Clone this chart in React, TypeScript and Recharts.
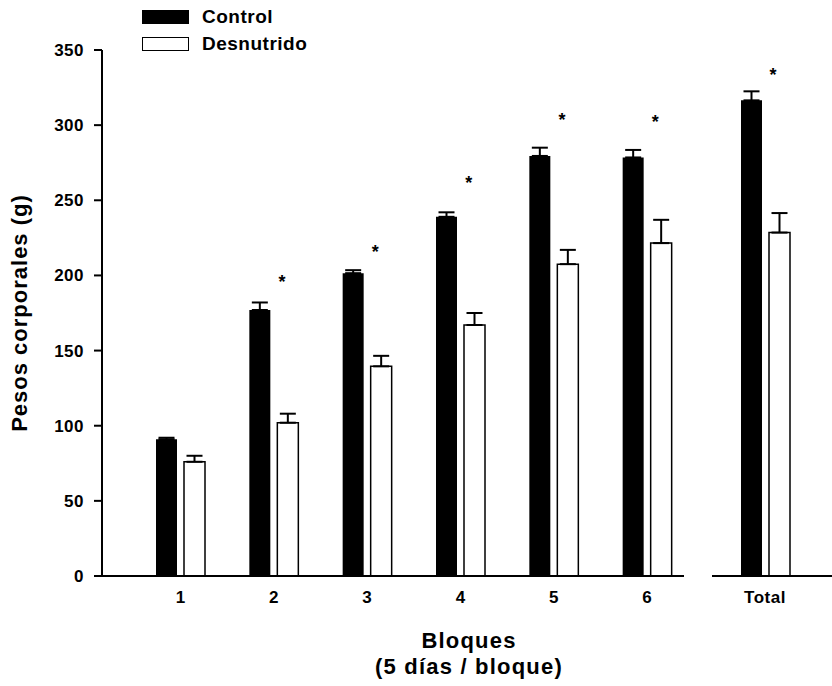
import { Bar, ComposedChart, ErrorBar, Label, Legend, Scatter, XAxis, YAxis } from 'recharts'

const FONT = '"Liberation Sans", Arial, Helvetica, sans-serif'

const categories = ['1', '2', '3', '4', '5', '6']
const control = [91, 177, 201.5, 239, 279.5, 278.5]
const controlErr = [1, 5, 2, 3, 5.5, 5]
const desnutrido = [76, 102, 139.5, 167, 207.5, 221.5]
const desnutridoErr = [4, 6, 7, 8, 9.5, 15.5]
const stars = [null, 198, 218, 264, 306, 305]

const totalCategory = ['Total']
const totalControl = [316.5]
const totalControlErr = [6]
const totalDesnutrido = [228.5]
const totalDesnutridoErr = [13]
const totalStars = [336]

const yTicks = [0, 50, 100, 150, 200, 250, 300, 350]

const data = categories.map((name, i) => ({
  name,
  control: control[i],
  controlErr: [0, controlErr[i]],
  desnutrido: desnutrido[i],
  desnutridoErr: [0, desnutridoErr[i]],
  star: stars[i],
}))

const totalData = totalCategory.map((name, i) => ({
  name,
  control: totalControl[i],
  controlErr: [0, totalControlErr[i]],
  desnutrido: totalDesnutrido[i],
  desnutridoErr: [0, totalDesnutridoErr[i]],
  star: totalStars[i],
}))

const tickStyle = { fill: '#000', fontSize: 17, fontWeight: 700, fontFamily: FONT, letterSpacing: 0.5 }
const axisStroke = { stroke: '#000', strokeWidth: 2 }

// asterisk drawn a little to the right of the group centre
const Star = (props: any) => {
  if (props.cx == null || props.payload?.star == null) return <g />
  return (
    <text
      x={props.cx + 8}
      y={props.cy + 10}
      textAnchor="middle"
      fontSize={18}
      fontWeight={700}
      fontFamily={FONT}
      fill="#000"
    >
      *
    </text>
  )
}

const renderLegend = (props: any) => {
  const items = (props.payload || []).filter(
    (p: any) => p.dataKey === 'control' || p.dataKey === 'desnutrido'
  )
  return (
    <div>
      {items.map((entry: any) => (
        <div key={entry.dataKey} style={{ display: 'flex', alignItems: 'center', height: 26.5 }}>
          <span
            style={{
              display: 'inline-block',
              width: 47,
              height: 14,
              boxSizing: 'border-box',
              border: '1.5px solid #000',
              background: entry.dataKey === 'control' ? '#000' : '#fff',
              marginRight: 13,
            }}
          />
          <span
            style={{
              fontFamily: FONT,
              fontWeight: 700,
              fontSize: 19,
              letterSpacing: 0.5,
              color: '#000',
            }}
          >
            {entry.value}
          </span>
        </div>
      ))}
    </div>
  )
}

export default function App() {
  return (
    <div style={{ position: 'absolute', left: 0, top: 0, width: 832, height: 686, background: '#fff' }}>
      <div style={{ position: 'absolute', left: 0, top: 0 }}>
        <ComposedChart
          width={700}
          height={686}
          data={data}
          margin={{ top: 50, right: 16, bottom: 80, left: 0 }}
          barSize={21}
          barGap={7}
        >
          <XAxis
            dataKey="name"
            axisLine={axisStroke}
            tickLine={false}
            tickSize={0}
            tickMargin={15}
            tick={tickStyle}
            height={30}
            padding={{ left: 32, right: -10 }}
          >
            <Label
              content={() => (
                <g>
                  <text
                    x={469}
                    y={648}
                    textAnchor="middle"
                    fontSize={22}
                    fontWeight={700}
                    fontFamily={FONT}
                    letterSpacing={1.2}
                    fill="#000"
                  >
                    Bloques
                  </text>
                  <text
                    x={469}
                    y={674}
                    textAnchor="middle"
                    fontSize={22}
                    fontWeight={700}
                    fontFamily={FONT}
                    letterSpacing={1.2}
                    fill="#000"
                  >
                    (5 días / bloque)
                  </text>
                </g>
              )}
            />
          </XAxis>
          <YAxis
            domain={[0, 350]}
            ticks={yTicks}
            width={102}
            axisLine={axisStroke}
            tickLine={axisStroke}
            tickSize={8}
            tickMargin={10}
            tick={tickStyle}
          >
            <Label
              content={() => (
                <text
                  x={27}
                  y={313}
                  transform="rotate(-90 27 313)"
                  textAnchor="middle"
                  fontSize={22}
                  fontWeight={700}
                  fontFamily={FONT}
                  letterSpacing={1}
                  fill="#000"
                >
                  Pesos corporales (g)
                </text>
              )}
            />
          </YAxis>
          <Legend
            layout="vertical"
            align="center"
            verticalAlign="middle"
            wrapperStyle={{ left: 142, top: 4, width: 'auto' }}
            content={renderLegend}
          />
          <Bar dataKey="control" name="Control" fill="#000" isAnimationActive={false}>
            <ErrorBar dataKey="controlErr" width={8} stroke="#000" strokeWidth={2} />
          </Bar>
          <Bar
            dataKey="desnutrido"
            name="Desnutrido"
            fill="#fff"
            stroke="#000"
            strokeWidth={1.5}
            isAnimationActive={false}
          >
            <ErrorBar dataKey="desnutridoErr" width={8} stroke="#000" strokeWidth={2} />
          </Bar>
          <Scatter dataKey="star" legendType="none" shape={<Star />} isAnimationActive={false} />
        </ComposedChart>
      </div>
      {/* separate panel for Total, same y scale */}
      <div style={{ position: 'absolute', left: 700, top: 0 }}>
        <ComposedChart
          width={132}
          height={686}
          data={totalData}
          margin={{ top: 50, right: 0, bottom: 80, left: 12 }}
          barSize={21}
          barGap={7}
        >
          <XAxis
            dataKey="name"
            axisLine={axisStroke}
            tickLine={false}
            tickSize={0}
            tickMargin={15}
            tick={tickStyle}
            height={30}
            padding={{ left: 0, right: 14 }}
          />
          <YAxis hide domain={[0, 350]} ticks={yTicks} />
          <Bar dataKey="control" name="Control" fill="#000" isAnimationActive={false}>
            <ErrorBar dataKey="controlErr" width={8} stroke="#000" strokeWidth={2} />
          </Bar>
          <Bar
            dataKey="desnutrido"
            name="Desnutrido"
            fill="#fff"
            stroke="#000"
            strokeWidth={1.5}
            isAnimationActive={false}
          >
            <ErrorBar dataKey="desnutridoErr" width={8} stroke="#000" strokeWidth={2} />
          </Bar>
          <Scatter dataKey="star" legendType="none" shape={<Star />} isAnimationActive={false} />
        </ComposedChart>
      </div>
    </div>
  )
}
